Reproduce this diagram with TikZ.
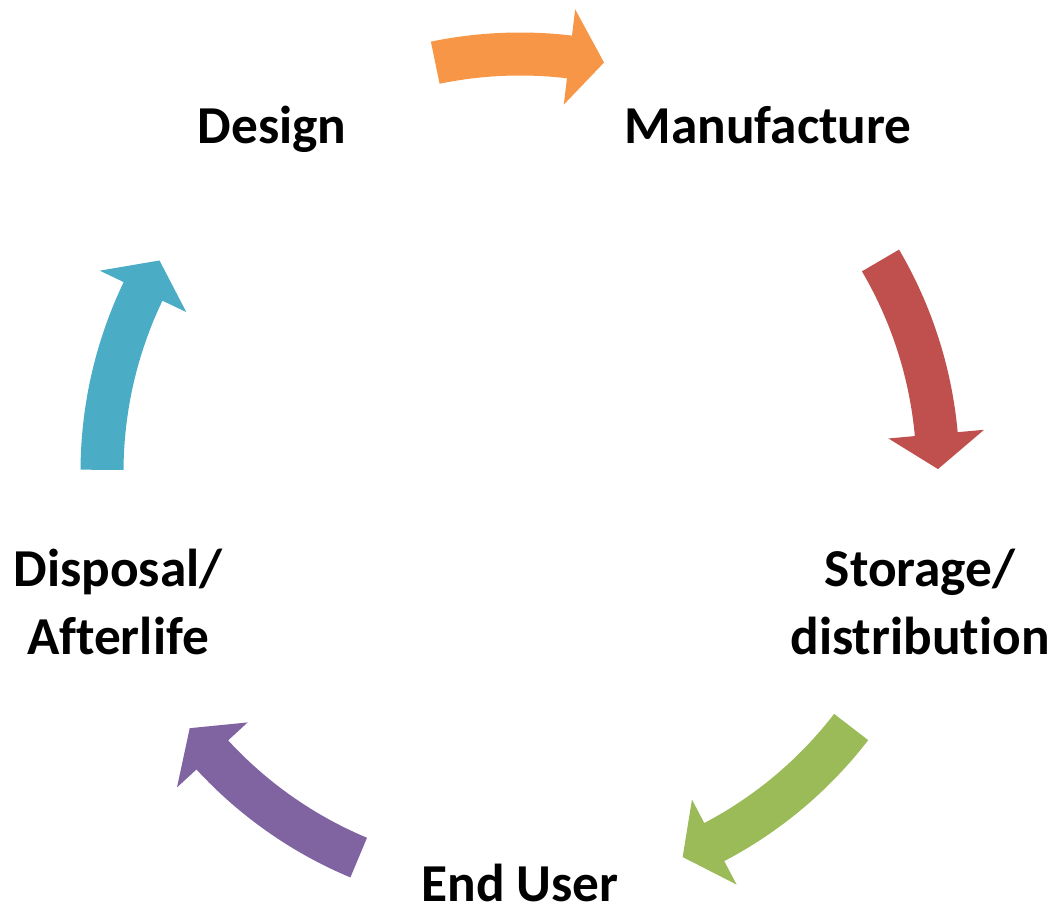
\documentclass[tikz,border=0pt]{standalone}
\usepackage{fontspec}
\setmainfont{Carlito}[Ligatures=NoCommon]
\usetikzlibrary{positioning}

\definecolor{designcol}{HTML}{F79646}
\definecolor{makecol}{HTML}{C0504D}
\definecolor{storecol}{HTML}{9BBB59}
\definecolor{usercol}{HTML}{8064A2}
\definecolor{afterlifecol}{HTML}{4BACC6}

% #1 colour, #2 tail angle, #3 tip angle (clockwise)
\newcommand{\cyclearrow}[3]{%
  \pgfmathsetmacro{\headang}{#3+4.8}%
  \fill[#1] (#2:439.5) arc[start angle=#2, end angle=\headang, radius=439.5]
    -- (\headang:466) -- (#3:418) -- (\headang:370)
    -- (\headang:396.5) arc[start angle=\headang, end angle=#2, radius=396.5] -- cycle;}

\begin{document}
\begin{tikzpicture}[x=0.75pt, y=0.75pt,
  stage/.style={font=\bfseries\fontsize{40}{51}\selectfont, align=center, inner sep=0pt}]
%%
  \useasboundingbox (-520,-437) rectangle (541,472);
  \node (design) at (-248,328) [stage, anchor=base] {Design};
  \node (manufacture) at (248,328) [stage, anchor=base] {Manufacture};
  \node (storage) at (400,-129.5) [stage] {Storage/\\distribution};
  \node (enduser) at (0,-430) [stage, anchor=base] {End User};
  \node (disposal) at (-402,-129.5) [stage] {Disposal/\\Afterlife};
  \cyclearrow{designcol}{101.7}{78.4}
  \cyclearrow{makecol}{30.4}{0.4}
  \cyclearrow{storecol}{-37.6}{-67.1}
  \cyclearrow{usercol}{247.3}{217.8}
  \cyclearrow{afterlifecol}{179.7}{149.6}
%
\end{tikzpicture}
\end{document}
